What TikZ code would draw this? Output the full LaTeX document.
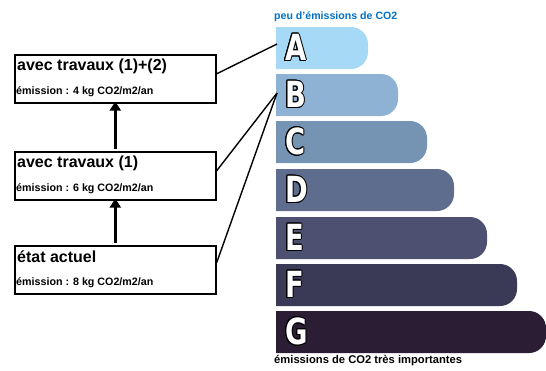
\documentclass[tikz,border=0pt]{standalone}
\usepackage{fontspec}
\setmainfont{Liberation Sans}
\newfontfamily\letterfont{DejaVu Sans}
\usepackage{contour}
\contourlength{1.1pt}
\usetikzlibrary{arrows.meta,calc}
\definecolor{cA}{HTML}{A5D9F5}
\definecolor{cB}{HTML}{8DB2D3}
\definecolor{cC}{HTML}{7594B4}
\definecolor{cD}{HTML}{5E6D8D}
\definecolor{cE}{HTML}{4D5070}
\definecolor{cF}{HTML}{3B3A56}
\definecolor{cG}{HTML}{2A1D34}
\definecolor{topblue}{HTML}{0070C8}
\tikzset{
  box/.style={draw=black, line width=1.6bp, minimum width=201bp, minimum height=48bp, anchor=north west, inner sep=0pt},
  title/.style={anchor=west, inner sep=0pt, font=\bfseries\fontsize{16bp}{16bp}\selectfont},
  sub/.style={anchor=west, inner sep=0pt, font=\bfseries\fontsize{10.7bp}{11bp}\selectfont},
  uparrow/.style={line width=3bp, -{Triangle[length=9bp,width=11bp]}},
  link/.style={line width=1.4bp},
  letter/.style={anchor=west, inner sep=0pt, font=\letterfont\bfseries\fontsize{36bp}{36bp}\selectfont},
}
\newcommand{\barletter}[1]{\scalebox{0.76}[1]{\contour{black}{\textcolor{white}{#1}}}}
\begin{document}
\begin{tikzpicture}[x=1bp,y=-1bp]
\useasboundingbox (0,0) rectangle (546,370);
% bars
\foreach \t/\r/\c in {27/368/cA, 74/398/cB, 121/427/cC, 169/454/cD, 217/487/cE, 264/517/cF, 311/546/cG}{
  \fill[\c] (276,\t) -- ({\r-17},\t) arc[start angle=90,end angle=0,x radius=17,y radius=-17]
     -- (\r,{\t+42-17}) arc[start angle=0,end angle=-90,x radius=17,y radius=-17] -- (276,{\t+42}) -- cycle;
}
\node[letter] (LA) at (285,48) {\barletter{A}};
\node[letter] (LB) at (285,95) {\barletter{B}};
\node[letter] (LC) at (285,142) {\barletter{C}};
\node[letter] (LD) at (285,190) {\barletter{D}};
\node[letter] (LE) at (285,238) {\barletter{E}};
\node[letter] (LF) at (285,285) {\barletter{F}};
\node[letter] (LG) at (285,332) {\barletter{G}};
\coordinate (Aleft) at (277,44);
\coordinate (Bleft) at (277,93);
% labels
\node[anchor=west, inner sep=0pt, text=topblue, font=\bfseries\fontsize{10.6bp}{11bp}\selectfont] (top) at (274,17) {peu d'émissions de CO2};
\node[anchor=west, inner sep=0pt, font=\bfseries\fontsize{11.2bp}{12bp}\selectfont] (bottom) at (274,361) {émissions de CO2 très importantes};
% boxes
\node[box] (b1) at (14,54) {};
\node[box] (b2) at (14,151) {};
\node[box] (b3) at (14,245) {};
\node[title] (t1) at (17,66) {avec travaux (1)+(2)};
\node[sub] (s1) at (16,92) {émission : 4 kg CO2/m2/an};
\node[title] (t2) at (17,163) {avec travaux (1)};
\node[sub] (s2) at (16,189) {émission : 6 kg CO2/m2/an};
\node[title] (t3) at (17,257) {état actuel};
\node[sub] (s3) at (16,283) {émission : 8 kg CO2/m2/an};
% arrows
\draw[uparrow] ($(b3.north)+(0,-2)$) -- ($(b2.south)+(0,-2)$);
\draw[uparrow] ($(b2.north)+(0,-2)$) -- ($(b1.south)+(0,-2)$);
% links
\draw[link] ($(b1.north east)!0.4!(b1.south east)$) -- (Aleft);
\draw[link] ($(b2.north east)!0.4!(b2.south east)$) -- (Bleft);
\draw[link] ($(b3.north east)!0.36!(b3.south east)$) -- (Bleft);
\end{tikzpicture}
\end{document}
